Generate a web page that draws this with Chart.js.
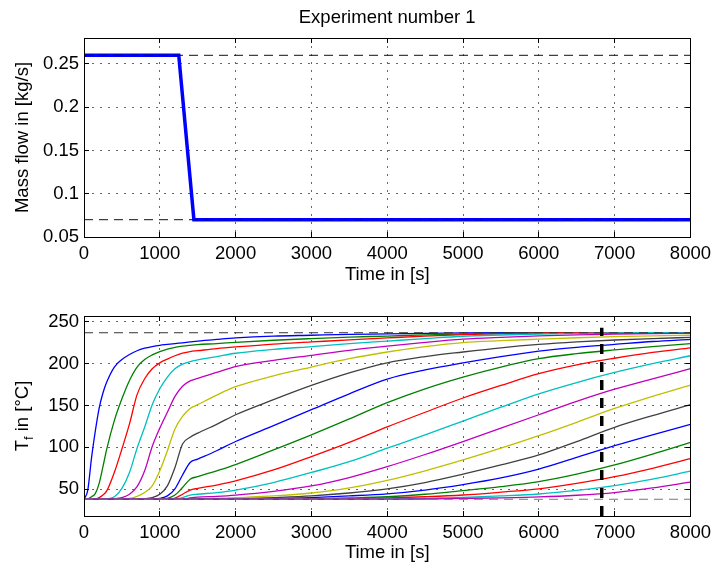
<!DOCTYPE html>
<html>
<head>
<meta charset="utf-8">
<script src="https://cdn.jsdelivr.net/npm/chart.js@4.4.1/dist/chart.umd.min.js"></script>
<style>
  html, body { margin: 0; padding: 0; background: #fff; }
  #wrap { position: relative; width: 717px; height: 571px; }
  canvas { position: absolute; left: 0; }
  #flowChart { top: 0; }
  #tempChart { top: 290px; }
</style>
</head>
<body>
<div id="wrap">
  <canvas id="flowChart" width="717" height="290"></canvas>
  <canvas id="tempChart" width="717" height="281"></canvas>
</div>
<script>
// ---- data ----
const timeTicks = [0, 1000, 2000, 3000, 4000, 5000, 6000, 7000, 8000];
const flowTicks = [0.05, 0.1, 0.15, 0.2, 0.25];
const tfTicks = [50, 100, 150, 200, 250];
const flowRange = [0.05, 0.28];
const tfRange = [18, 257];

// mass flow step
const flowTime = [0, 1250, 1450, 8000];
const flowValue = [0.26, 0.26, 0.07, 0.07];
const flowLimits = [0.07, 0.26];

// fluid temperatures along the storage, one curve per node
const time = [0, 50, 100, 150, 200, 250, 300, 400, 500, 600, 700, 800, 900, 1000, 1100, 1200, 1300,
  1400, 1500, 1750, 2000, 2500, 3000, 3500, 4000, 4500, 5000, 5500, 6000, 6500, 7000, 7500, 8000];
const tf1 = [38, 49, 88, 120, 147, 165, 178, 196, 205, 211, 215.5, 218.5, 220.5, 222, 223, 224, 225,
  226, 227, 229, 230.8, 233, 234, 235, 235.6, 236.3, 236.8, 237, 237, 237, 237, 237, 237];
const tf2 = [38, 38.5, 41, 45, 57, 77, 98, 132, 158, 180, 196, 205, 210.5, 214.5, 217.5, 219.5, 221,
  222, 222.8, 224, 225.5, 228, 230, 231.8, 233, 234.5, 235.5, 236.3, 236.8, 237, 237, 237, 237];
const tf3 = [38, 38, 38, 38.5, 40, 43, 48, 70, 98, 128, 163, 182, 194, 201, 205.5, 209.5, 212.5,
  214.5, 215.5, 218, 220, 223.5, 226, 228.5, 230.8, 233, 234.8, 235.8, 236.5, 237, 237, 237, 237];
const tf4 = [38, 38, 38, 38, 38, 38, 38.5, 41, 51, 70, 99, 124, 151, 170, 184, 194, 199.5,
  202.5, 204.5, 208.5, 212.5, 217, 220.5, 224, 227, 230, 232.8, 234.3, 235.5, 236.3, 236.8, 237, 237];
const tf5 = [38, 38, 38, 38, 38, 38, 38, 38.5, 40, 44, 53, 72, 101, 123, 142, 161, 173,
  179.5, 182.5, 189.5, 196.5, 204, 210, 216, 221, 225.5, 229.3, 231.5, 233.2, 234.5, 235.3, 236, 236.5];
const tf6 = [38, 38, 38, 38, 38, 38, 38, 38, 38, 39, 41.5, 46, 54, 72, 96, 122, 137,
  146.5, 151, 162.5, 172.5, 185.5, 196, 206, 214, 220.5, 225.3, 227.5, 229.3, 231, 232.3, 233.3, 234];
const tf7 = [38, 38, 38, 38, 38, 38, 38, 38, 38, 38, 38, 38.5, 40, 44, 54, 76, 104,
  112, 117, 127.5, 139, 157, 174, 189, 201, 208.5, 214, 219, 223, 226, 228.3, 230, 231.5];
const tf8 = [38, 38, 38, 38, 38, 38, 38, 38, 38, 38, 38, 38, 38, 39, 42, 50.5, 67,
  82, 86, 96, 107, 126, 145, 164, 181.5, 192.5, 201, 208.5, 215, 219.5, 223, 226.5, 229];
const tf9 = [38, 38, 38, 38, 38, 38, 38, 38, 38, 38, 38, 38, 38, 38, 39, 43, 52,
  62, 65, 72, 79.5, 97, 115, 134, 153.5, 170, 184, 196, 206, 212, 216.5, 220.5, 224];
const tf10 = [38, 38, 38, 38, 38, 38, 38, 38, 38, 38, 38, 38, 38, 38, 38, 39.5, 44,
  49, 51, 55, 60, 73, 89, 106, 124.5, 142, 159, 174, 188, 198.5, 206.5, 213.5, 219];
const tf11 = [38, 38, 38, 38, 38, 38, 38, 38, 38, 38, 38, 38, 38, 38, 38, 38, 40,
  43, 44, 46, 49, 58, 70, 83, 99, 115, 131.5, 148, 164, 177.5, 189.5, 200, 209.5];
const tf12 = [38, 38, 38, 38, 38, 38, 38, 38, 38, 38, 38, 38, 38, 38, 38, 38, 38,
  39.5, 40.5, 41.5, 43, 47.5, 54, 64, 77, 91.5, 107, 123, 139, 155, 169.5, 182, 194];
const tf13 = [38, 38, 38, 38, 38, 38, 38, 38, 38, 38, 38, 38, 38, 38, 38, 38, 38,
  38, 38.5, 39, 40, 42, 45.5, 51.5, 60.5, 72, 85, 99, 114, 130, 146.5, 161, 174.5];
const tf14 = [38, 38, 38, 38, 38, 38, 38, 38, 38, 38, 38, 38, 38, 38, 38, 38, 38,
  38, 38, 38, 38.5, 40, 42, 45.5, 50.5, 58, 68, 79, 91, 107, 124, 138, 151];
const tf15 = [38, 38, 38, 38, 38, 38, 38, 38, 38, 38, 38, 38, 38, 38, 38, 38, 38,
  38, 38, 38, 38, 38.8, 40, 42, 44.5, 49, 55.5, 63.5, 74, 88, 102, 115, 127.5];
const tf16 = [38, 38, 38, 38, 38, 38, 38, 38, 38, 38, 38, 38, 38, 38, 38, 38, 38,
  38, 38, 38, 38, 38, 38.5, 39.5, 41, 44, 48.3, 53, 59, 68, 79, 92, 106];
const tf17 = [38, 38, 38, 38, 38, 38, 38, 38, 38, 38, 38, 38, 38, 38, 38, 38, 38,
  38, 38, 38, 38, 38, 38, 38.5, 39.5, 41, 43.1, 46.5, 50.5, 57, 65, 75, 86.5];
const tf18 = [38, 38, 38, 38, 38, 38, 38, 38, 38, 38, 38, 38, 38, 38, 38, 38, 38,
  38, 38, 38, 38, 38, 38, 38, 38.5, 39, 40.3, 42, 44.3, 48.5, 54.3, 62, 71.5];
const tf19 = [38, 38, 38, 38, 38, 38, 38, 38, 38, 38, 38, 38, 38, 38, 38, 38, 38,
  38, 38, 38, 38, 38, 38, 38, 38, 38.3, 39, 39.7, 40.8, 42.8, 46, 51.5, 58.5];
const tfSeries = [tf1, tf2, tf3, tf4, tf5, tf6, tf7, tf8, tf9, tf10,
  tf11, tf12, tf13, tf14, tf15, tf16, tf17, tf18, tf19];
const tfLimits = [38, 237];
const markerTime = 6830;
const markerRange = [18, 243];

// old matlab line colour order
const lineColors = ['#0000ff', '#008000', '#ff0000', '#00bfbf', '#bf00bf', '#bfbf00', '#404040'];

const FONT = "'Liberation Sans', Arial, sans-serif";
const FONT_SIZE = 18.5;
const SUB_SIZE = 13;

function txtFont() { return { family: FONT, size: FONT_SIZE, weight: 'normal' }; }

// black box with inward ticks on all four sides
const axesBox = {
    id: 'axesBox',
    afterDatasetsDraw(chart) {
        const { ctx, chartArea: a, scales } = chart;
        const len = 5;
        ctx.save();
        ctx.strokeStyle = '#000';
        ctx.lineWidth = 1;
        ctx.setLineDash([]);
        ctx.beginPath();
        scales.x.ticks.forEach(t => {
            const px = Math.round(scales.x.getPixelForValue(t.value) - 0.5) + 0.5;
            ctx.moveTo(px, a.bottom); ctx.lineTo(px, a.bottom - len);
            ctx.moveTo(px, a.top); ctx.lineTo(px, a.top + len);
        });
        scales.y.ticks.forEach(t => {
            const py = Math.round(scales.y.getPixelForValue(t.value) - 0.5) + 0.5;
            ctx.moveTo(a.left, py); ctx.lineTo(a.left + len, py);
            ctx.moveTo(a.right, py); ctx.lineTo(a.right - len, py);
        });
        ctx.stroke();
        ctx.strokeRect(Math.round(a.left) + 0.5, Math.round(a.top) + 0.5,
            Math.round(a.right - a.left), Math.round(a.bottom - a.top));
        ctx.restore();
    }
};

// y label "T_f in [°C]" needs a subscript, chart.js titles can't do that
const subscriptTitle = {
    id: 'subscriptTitle',
    afterDraw(chart) {
        const { ctx, chartArea: a } = chart;
        const big = `${FONT_SIZE}px ${FONT}`;
        const small = `${SUB_SIZE}px ${FONT}`;
        ctx.save();
        ctx.fillStyle = '#000';
        ctx.textBaseline = 'middle';
        ctx.textAlign = 'left';
        ctx.font = big;
        const wT = ctx.measureText('T').width;
        const wRest = ctx.measureText(' in [°C]').width;
        ctx.font = small;
        const wf = ctx.measureText('f').width;
        ctx.translate(23, (a.top + a.bottom) / 2);
        ctx.rotate(-Math.PI / 2);
        let x = -(wT + wf + wRest) / 2;
        ctx.font = big; ctx.fillText('T', x, 0); x += wT;
        ctx.font = small; ctx.fillText('f', x, 6); x += wf;
        ctx.font = big; ctx.fillText(' in [°C]', x, 0);
        ctx.restore();
    }
};

function timeAxis(height, titlePad) {
    return {
        type: 'linear',
        min: timeTicks[0],
        max: timeTicks[timeTicks.length - 1],
        afterBuildTicks: s => { s.ticks = timeTicks.map(v => ({ value: v })); },
        afterFit: s => { s.height = height; },
        grid: { color: '#666', lineWidth: 1, drawTicks: false },
        border: { display: false, dash: [2, 6] },
        ticks: { color: '#000', font: txtFont(), padding: 6, maxRotation: 0, autoSkip: false,
            callback: v => String(v) },
        title: { display: true, text: 'Time in [s]', color: '#000', font: txtFont(),
            padding: { top: 0, bottom: titlePad } }
    };
}

function valueAxis(range, ticks, fmt, title) {
    return {
        type: 'linear',
        min: range[0],
        max: range[1],
        afterBuildTicks: s => { s.ticks = ticks.map(v => ({ value: v })); },
        afterFit: s => { s.width = 84; },
        grid: { color: '#666', lineWidth: 1, drawTicks: false },
        border: { display: false, dash: [2, 6] },
        ticks: { color: '#000', font: txtFont(), padding: 5, autoSkip: false, callback: fmt },
        title: title
            ? { display: true, text: title, color: '#000', font: txtFont(), padding: { top: 12, bottom: 0 } }
            : { display: false }
    };
}

function refLine(x0, x1, y0, y1, color, width, dash, order) {
    return {
        data: [{ x: x0, y: y0 }, { x: x1, y: y1 }],
        borderColor: color, borderWidth: width, borderDash: dash,
        pointRadius: 0, tension: 0, order: order
    };
}

const tStart = timeTicks[0];
const tEnd = timeTicks[timeTicks.length - 1];

const baseOpts = {
    responsive: false,
    animation: false,
    events: [],
    devicePixelRatio: 1
};

// ---- top: mass flow ----
new Chart(document.getElementById('flowChart'), {
    type: 'line',
    data: {
        datasets: [
            {
                data: flowTime.map((t, i) => ({ x: t, y: flowValue[i] })),
                borderColor: '#0000ff', borderWidth: 3.5, pointRadius: 0, tension: 0, order: 5
            },
            refLine(tStart, tEnd, flowLimits[0], flowLimits[0], '#111', 1, [9, 6], 1),
            refLine(tStart, tEnd, flowLimits[1], flowLimits[1], '#111', 1, [9, 6], 1)
        ]
    },
    options: Object.assign({}, baseOpts, {
        layout: { padding: { left: 0, right: 23, top: 0, bottom: 0 } },
        plugins: {
            legend: { display: false },
            tooltip: { enabled: false },
            title: { display: true, text: 'Experiment number 1', color: '#000', font: txtFont(),
                fullSize: false, padding: { top: 7, bottom: 8.8 } }
        },
        scales: {
            x: timeAxis(53, 4),
            y: valueAxis(flowRange, flowTicks, v => String(Math.round(v * 100) / 100), 'Mass flow in [kg/s]')
        }
    }),
    plugins: [axesBox]
});

// ---- bottom: fluid temperatures ----
const tfDatasets = tfSeries.map((vals, i) => ({
    data: time.map((t, k) => ({ x: t, y: vals[k] })),
    borderColor: lineColors[i % lineColors.length],
    borderWidth: 1.3,
    pointRadius: 0,
    cubicInterpolationMode: 'monotone',
    order: 100 - i
}));
tfDatasets.push(refLine(tStart, tEnd, tfLimits[1], tfLimits[1], '#333', 1, [9, 6], 2));
tfDatasets.push(refLine(tStart, tEnd, tfLimits[0], tfLimits[0], '#777', 1, [9, 6], 2));
tfDatasets.push(refLine(markerTime, markerTime, markerRange[0], markerRange[1], '#000', 3.5, [10, 8], 0));

new Chart(document.getElementById('tempChart'), {
    type: 'line',
    data: { datasets: tfDatasets },
    options: Object.assign({}, baseOpts, {
        layout: { padding: { left: 0, right: 23, top: 26, bottom: 0 } },
        plugins: { legend: { display: false }, tooltip: { enabled: false } },
        scales: {
            x: timeAxis(55, 7),
            y: valueAxis(tfRange, tfTicks, v => String(v), null)
        }
    }),
    plugins: [axesBox, subscriptTitle]
});
</script>
</body>
</html>
